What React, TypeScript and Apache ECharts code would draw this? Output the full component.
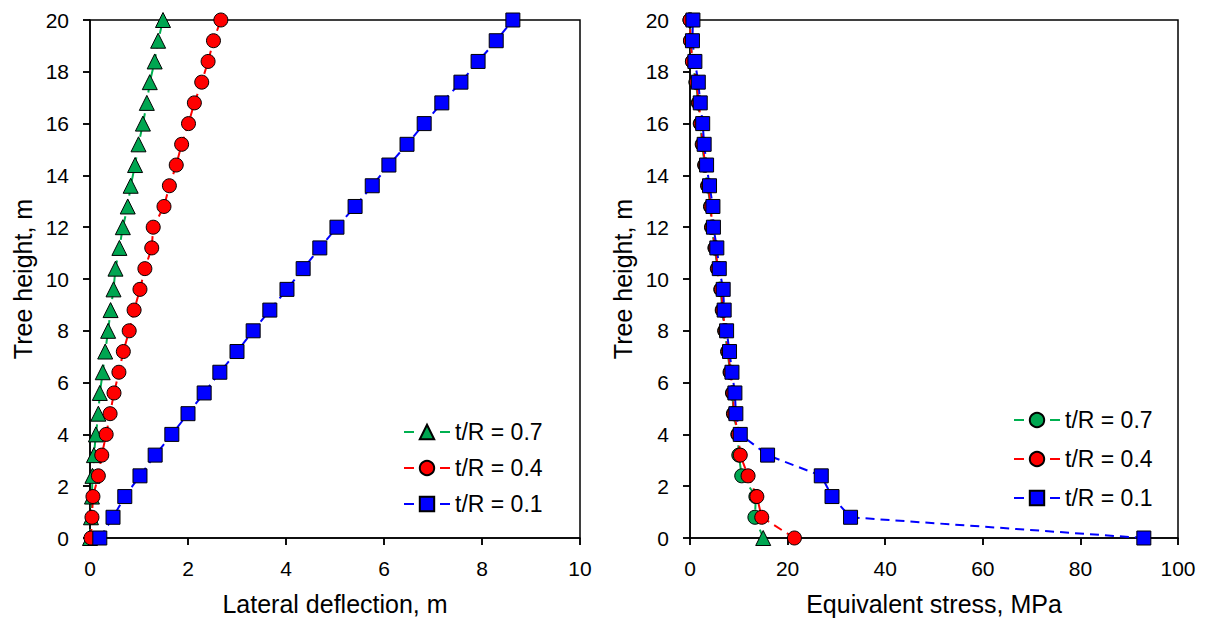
import React, { useEffect, useRef } from "react";
import * as echarts from "echarts";

const heights = [0, 0.8, 1.6, 2.4, 3.2, 4.0, 4.8, 5.6, 6.4, 7.2, 8.0, 8.8, 9.6, 10.4, 11.2, 12.0, 12.8, 13.6, 14.4, 15.2, 16.0, 16.8, 17.6, 18.4, 19.2, 20.0];

// Left panel: lateral deflection (m)
const deflR07 = [0, 0.02, 0.04, 0.05, 0.08, 0.12, 0.17, 0.2, 0.26, 0.31, 0.37, 0.42, 0.48, 0.52, 0.6, 0.67, 0.77, 0.83, 0.92, 0.99, 1.08, 1.16, 1.22, 1.32, 1.39, 1.49];
const deflR04 = [0.02, 0.04, 0.06, 0.17, 0.24, 0.33, 0.41, 0.49, 0.59, 0.68, 0.8, 0.9, 1.02, 1.12, 1.26, 1.29, 1.51, 1.62, 1.76, 1.87, 2.01, 2.13, 2.28, 2.41, 2.52, 2.67];
const deflR01 = [0.2, 0.47, 0.71, 1.02, 1.33, 1.67, 2.0, 2.33, 2.65, 3.0, 3.33, 3.67, 4.02, 4.35, 4.69, 5.04, 5.41, 5.76, 6.1, 6.47, 6.82, 7.18, 7.57, 7.92, 8.29, 8.63];

// Right panel: equivalent stress (MPa)
const stressR07 = [15.0, 13.3, 13.5, 10.6, 10.0, 9.8, 8.9, 8.7, 8.2, 7.7, 7.1, 6.6, 6.3, 5.6, 5.1, 4.4, 4.2, 3.6, 3.0, 2.5, 2.1, 1.7, 1.2, 0.5, 0.1, 0.0];
const stressR04 = [21.4, 14.7, 13.7, 11.9, 10.3, 9.9, 9.0, 8.8, 8.3, 7.8, 7.2, 6.7, 6.4, 5.7, 5.2, 4.5, 4.3, 3.7, 3.1, 2.6, 2.2, 1.8, 1.3, 0.5, 0.1, 0.0];
const stressR01 = [93.0, 32.9, 29.1, 26.9, 15.9, 10.3, 9.4, 9.2, 8.6, 8.1, 7.5, 7.0, 6.8, 6.0, 5.5, 4.8, 4.7, 4.0, 3.4, 2.9, 2.6, 2.1, 1.7, 1.0, 0.5, 0.6];

const seriesNames = ["t/R = 0.7", "t/R = 0.4", "t/R = 0.1"];
const yTicksMax = 20;

const FONT = "'Liberation Sans', Arial, sans-serif";
const GREEN = "#00B050";
const GREEN_FILL = "#00A651";
const RED = "#FF0000";
const BLUE = "#0000FF";

function pairs(xs: number[]) {
  return xs.map((x, i) => [x, heights[i]]);
}

export default function App() {
  const ref = useRef<HTMLDivElement>(null);

  useEffect(() => {
    document.body.style.margin = "0";
    const chart = echarts.init(ref.current!, null, { renderer: "svg" });

    const axisLineStyle = { color: "#000", width: 1.5 };
    const labelStyle = { fontSize: 21, color: "#000", fontFamily: FONT };
    const nameStyle = { fontSize: 25, color: "#000", fontFamily: FONT };

    const mainX = (gi: number, max: number, interval: number, name: string) => ({
      gridIndex: gi,
      type: "value",
      min: 0,
      max,
      interval,
      name,
      nameLocation: "middle",
      nameGap: 53,
      nameTextStyle: nameStyle,
      axisLine: { show: true, onZero: false, lineStyle: axisLineStyle },
      axisTick: { show: true, length: 7, lineStyle: axisLineStyle },
      axisLabel: { ...labelStyle, margin: 20 },
      splitLine: { show: false },
    });
    const innerX = (gi: number, max: number, interval: number) => ({
      gridIndex: gi,
      type: "value",
      min: 0,
      max,
      interval,
      axisLine: { show: false },
      axisTick: { show: true, inside: true, length: 7, lineStyle: axisLineStyle },
      axisLabel: { show: false },
      splitLine: { show: false },
    });
    const mainY = (gi: number) => ({
      gridIndex: gi,
      type: "value",
      min: 0,
      max: yTicksMax,
      interval: 2,
      name: "Tree height, m",
      nameLocation: "middle",
      nameGap: 55,
      nameRotate: 90,
      nameTextStyle: nameStyle,
      axisLine: { show: true, onZero: false, lineStyle: axisLineStyle },
      axisTick: { show: true, length: 7, lineStyle: axisLineStyle },
      axisLabel: { ...labelStyle, margin: 21 },
      splitLine: { show: false },
    });
    const innerY = (gi: number) => ({
      gridIndex: gi,
      type: "value",
      min: 0,
      max: yTicksMax,
      interval: 2,
      axisLine: { show: false },
      axisTick: { show: true, inside: true, length: 7, lineStyle: axisLineStyle },
      axisLabel: { show: false },
      splitLine: { show: false },
    });

    const mk = (
      name: string,
      data: any[],
      xi: number,
      yi: number,
      color: string,
      fill: string,
      symbol: string,
      size: number
    ) => ({
      type: "line",
      name,
      data,
      xAxisIndex: xi,
      yAxisIndex: yi,
      clip: false,
      symbol,
      symbolSize: size,
      showAllSymbol: true,
      lineStyle: { color, width: 2, type: [9, 6] },
      itemStyle: { color: fill, borderColor: "#000", borderWidth: 1 },
      emphasis: { disabled: true },
      z: 2,
    });

    const green2 = pairs(stressR07).map((p, i) =>
      i === 0 ? { value: p, symbol: "triangle", symbolSize: 15 } : { value: p }
    );

    const legendCommon = {
      orient: "vertical",
      itemWidth: 46,
      itemHeight: 18,
      padding: 0,
      selectedMode: false,
      lineStyle: { type: [10, 26], width: 2 },
      textStyle: { fontSize: 23, color: "#000", fontFamily: FONT, lineHeight: 24 },
    };

    const option: any = {
      animation: false,
      backgroundColor: "#fff",
      grid: [
        { left: 90, top: 20, width: 490, height: 518, show: true, borderColor: "#000", borderWidth: 1.5 },
        { left: 690, top: 20, width: 488, height: 518, show: true, borderColor: "#000", borderWidth: 1.5 },
      ],
      xAxis: [
        mainX(0, 10, 2, "Lateral deflection, m"),
        mainX(1, 100, 20, "Equivalent stress, MPa"),
        innerX(0, 10, 2),
        innerX(1, 100, 20),
      ],
      yAxis: [mainY(0), mainY(1), innerY(0), innerY(1)],
      legend: [
        {
          ...legendCommon,
          left: 403,
          top: 420,
          itemGap: 12,
          data: seriesNames,
          formatter: (n: string) => n.trim(),
        },
        {
          ...legendCommon,
          left: 1013,
          top: 408,
          itemGap: 15,
          data: seriesNames.map((n) => n + " "),
          formatter: (n: string) => n.trim(),
        },
      ],
      series: [
        mk(seriesNames[0], pairs(deflR07), 0, 0, GREEN, GREEN_FILL, "triangle", 15),
        mk(seriesNames[1], pairs(deflR04), 0, 0, RED, RED, "circle", 14),
        mk(seriesNames[2], pairs(deflR01), 0, 0, BLUE, BLUE, "rect", 14),
        mk(seriesNames[0] + " ", green2, 1, 1, GREEN, GREEN_FILL, "circle", 14),
        mk(seriesNames[1] + " ", pairs(stressR04), 1, 1, RED, RED, "circle", 14),
        mk(seriesNames[2] + " ", pairs(stressR01), 1, 1, BLUE, BLUE, "rect", 14),
      ],
    };

    chart.setOption(option);
    return () => chart.dispose();
  }, []);

  return <div ref={ref} style={{ width: 1209, height: 621 }} />;
}
